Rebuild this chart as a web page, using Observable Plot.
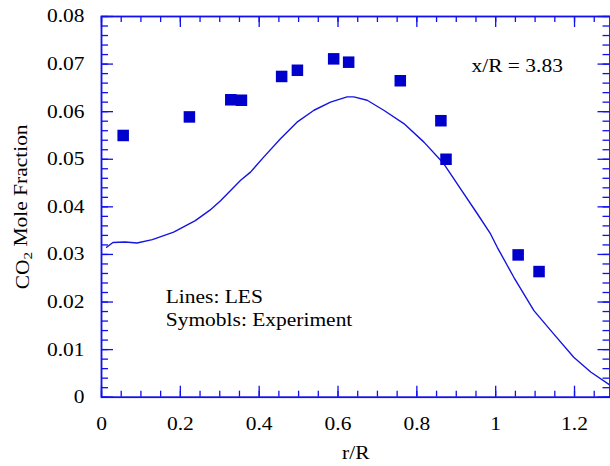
<!DOCTYPE html>
<html><head><meta charset="utf-8">
<script src="https://cdn.jsdelivr.net/npm/d3@7"></script>
<script src="https://cdn.jsdelivr.net/npm/@observablehq/plot@0.6"></script>
<style>body{margin:0;background:#fff;overflow:hidden} svg{display:block}</style>
</head><body><div id="chart"></div>
<script>
// LES line (r/R, CO2 mole fraction)
const lesR = [0.013,0.029,0.06,0.09,0.129,0.183,0.238,0.275,0.302,0.353,0.378,0.412,0.454,0.496,0.539,0.581,0.623,0.640,0.674,0.716,0.767,0.818,0.868,0.911,0.953,0.987,1.004,1.046,1.097,1.147,1.198,1.241,1.291];
const lesCO2 = [0.0315,0.0325,0.0326,0.0324,0.0331,0.0347,0.0371,0.0393,0.0413,0.0456,0.0473,0.0505,0.0543,0.0578,0.0603,0.0620,0.0631,0.0631,0.0624,0.0603,0.0575,0.0536,0.0491,0.0438,0.0386,0.0343,0.0315,0.0252,0.0182,0.0133,0.0084,0.0053,0.0025];
// Experiment symbols
const expR = [0.055,0.223,0.328,0.355,0.457,0.497,0.589,0.627,0.758,0.861,0.874,1.057,1.110];
const expCO2 = [0.0550,0.0589,0.0625,0.0624,0.0674,0.0687,0.0711,0.0704,0.0665,0.0581,0.0500,0.0299,0.0264];
// Axis ticks
const xMajorTicks = [0,0.2,0.4,0.6,0.8,1,1.2];
const yMajorTicks = [0,0.01,0.02,0.03,0.04,0.05,0.06,0.07,0.08];
const xMinorTicks = d3.range(0,26).map(i => +(i*0.05).toFixed(2));
const yMinorTicks = d3.range(0,41).map(i => +(i*0.002).toFixed(3));
const xTitle = "r/R";
const yTitle = "CO2 Mole Fraction";
const caseLabel = "x/R = 3.83";
const legendText = "Lines: LES\nSymobls: Experiment";

const les = lesR.map((r,i) => ({r, c: lesCO2[i]}));
const exp = expR.map((r,i) => ({r, c: expCO2[i]}));

const W = 610, H = 466, mL = 101, mT = 16, mR = 0.5, mB = 69.3;
const pW = W - mL - mR, pH = H - mT - mB;
const axisColor = "#1010f0";
const FS = 18.5;

const plot = Plot.plot({
  width: W, height: H,
  marginLeft: mL, marginTop: mT, marginRight: mR, marginBottom: mB,
  style: {fontFamily: "'Liberation Serif', 'Times New Roman', serif", fontSize: FS + "px", color: "#000", background: "#fff"},
  x: {domain: [0, 1.29]},
  y: {domain: [0, 0.08]},
  marks: [
    Plot.ruleX(xMinorTicks, {x: d => d, insetTop: pH - 6, stroke: axisColor, strokeWidth: 1.3}),
    Plot.ruleX(xMajorTicks, {x: d => d, insetTop: pH - 11, stroke: axisColor, strokeWidth: 1.3}),
    Plot.ruleX(xMinorTicks, {x: d => d, insetBottom: pH - 6, stroke: axisColor, strokeWidth: 1.3}),
    Plot.ruleX(xMajorTicks, {x: d => d, insetBottom: pH - 11, stroke: axisColor, strokeWidth: 1.3}),
    Plot.ruleY(yMinorTicks, {y: d => d, insetRight: pW - 7, stroke: axisColor, strokeWidth: 1.3}),
    Plot.ruleY(yMajorTicks, {y: d => d, insetRight: pW - 12, stroke: axisColor, strokeWidth: 1.3}),
    Plot.ruleY(yMinorTicks, {y: d => d, insetLeft: pW - 7, stroke: axisColor, strokeWidth: 1.3}),
    Plot.ruleY(yMajorTicks, {y: d => d, insetLeft: pW - 12, stroke: axisColor, strokeWidth: 1.3}),
    Plot.frame({stroke: axisColor, strokeWidth: 1.8}),
    Plot.axisX(xMajorTicks, {tickSize: 0, tickPadding: 20, tickFormat: d => String(+d.toFixed(1)), label: null, fontSize: FS}),
    Plot.axisY(yMajorTicks, {tickSize: 0, tickPadding: 17, tickFormat: d => String(+d.toFixed(2)), label: null, fontSize: FS}),
    Plot.line(les, {x: "r", y: "c", stroke: "#1515e0", strokeWidth: 1.4, clip: true}),
    Plot.dot(exp, {x: "r", y: "c", symbol: "square", r: 6.5, fill: "#0000cc", stroke: "none"}),
    Plot.text([caseLabel], {x: 0.9386, y: 0.0683, text: d => d, textAnchor: "start", lineAnchor: "bottom", fontSize: FS}),
    Plot.text([legendText], {x: 0.163, y: 0.01486, text: d => d, textAnchor: "start", lineAnchor: "bottom", lineHeight: 23 / FS, fontSize: FS}),
    Plot.text([xTitle], {frameAnchor: "bottom", dy: 61.3, text: d => d, textAnchor: "middle", lineAnchor: "bottom", fontSize: FS}),
    Plot.text([yTitle], {frameAnchor: "left", dx: -73, rotate: -90, text: d => d, textAnchor: "middle", lineAnchor: "bottom", fontSize: FS})
  ]
});
document.getElementById("chart").appendChild(plot);

// subscript 2 in CO2
d3.select(plot).selectAll("text").filter(function(){ return this.textContent === yTitle; }).each(function(){
  const t = d3.select(this);
  t.text(null);
  t.append("tspan").text("CO");
  t.append("tspan").attr("dy", "0.3em").attr("font-size", "13px").text("2");
  t.append("tspan").attr("dy", "-0.3em").text(" Mole Fraction");
});

// the reference typeface is set slightly wide: stretch glyphs horizontally
const STRETCH = 1.16;
d3.select(plot).selectAll("text").each(function(){
  const lines = Array.from(this.children).filter(c => c.tagName === "tspan" && c.hasAttribute("x"));
  const targets = lines.length ? lines : [this];
  for (const el of targets) {
    const len = el.getComputedTextLength();
    if (len > 0) {
      el.setAttribute("textLength", (len * STRETCH).toFixed(2));
      el.setAttribute("lengthAdjust", "spacingAndGlyphs");
    }
  }
});
</script>
</body></html>
